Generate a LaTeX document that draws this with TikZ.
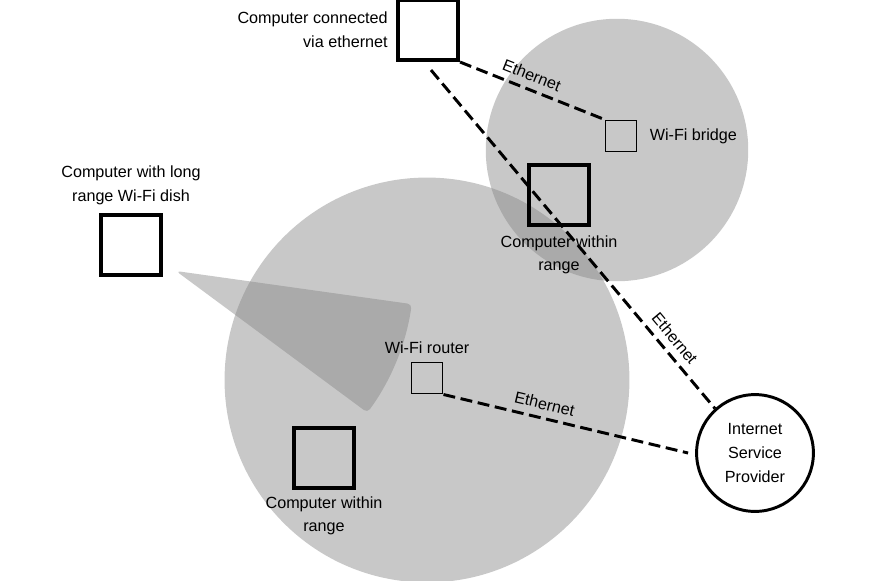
\documentclass[tikz,border=0pt]{standalone}
\usepackage{fontspec}
\setmainfont{Liberation Sans}
\usetikzlibrary{positioning}
\definecolor{rangegray}{RGB}{134,134,134}

\begin{document}
\begin{tikzpicture}[
    x=0.025cm, y=-0.025cm,
    font=\fontsize{11.5}{17}\selectfont,
    pc/.style={draw, line width=3.2pt, minimum size=1.49cm, inner sep=0},
    dev/.style={draw, line width=1.4pt, minimum size=0.775cm, inner sep=0},
    lbl/.style={inner sep=0, align=center},
    coverage/.style={fill=rangegray, fill opacity=0.455},
    eth/.style={line width=2.1pt, dash pattern=on 8.5pt off 4pt},
    elbl/.style={above=4pt, sloped, inner sep=1pt}
]
\useasboundingbox (0,0) rectangle (876,580);

% ============================================================
% RADIO RANGES
% ============================================================
\fill[coverage] (427,380) circle[radius=5.06cm];
\fill[coverage] (617,150) circle[radius=3.28cm];
\fill[coverage, rounded corners=3pt] (176,271) -- ++(-8:5.95cm)
    arc[start angle=-8, end angle=-36.5, radius=5.95cm] -- cycle;

% ============================================================
% DEVICES
% ============================================================
\node[pc] (pceth) at (428,30) {};
\node[lbl, align=right, left=0.2cm of pceth] {Computer connected\\via ethernet};

\node[dev] (bridge) at (621,136) {};
\node[lbl, right=0.3cm of bridge] {Wi-Fi bridge};

\node[pc] (nearpc) at (559,195) {};
\node[lbl, below=0.2cm of nearpc] {Computer within\\range};

\node[pc] (dishpc) at (131,245) {};
\node[lbl, above=0.2cm of dishpc] {Computer with long\\range Wi-Fi dish};

\node[dev] (router) at (427,378) {};
\node[lbl, above=0.2cm of router] {Wi-Fi router};

\node[pc] (roompc) at (324,458) {};
\node[lbl, below=0.15cm of roompc] {Computer within\\range};

\node[draw, circle, line width=2.1pt, minimum size=2.92cm, fill=white,
      align=center, inner sep=0] (isp) at (755,453)
    {Internet\\Service\\Provider};

% ============================================================
% ETHERNET LINKS
% ============================================================
\draw[eth] (pceth.south east) -- node[elbl, pos=0.46] {Ethernet} (bridge.north west);
\draw[eth] ([shift={(3,8)}]pceth.south) -- node[elbl, pos=0.82] {Ethernet} (isp.132);
\draw[eth] (router.south east) -- node[elbl, pos=0.4] {Ethernet} ([xshift=-5]isp.west);

\end{tikzpicture}
\end{document}
